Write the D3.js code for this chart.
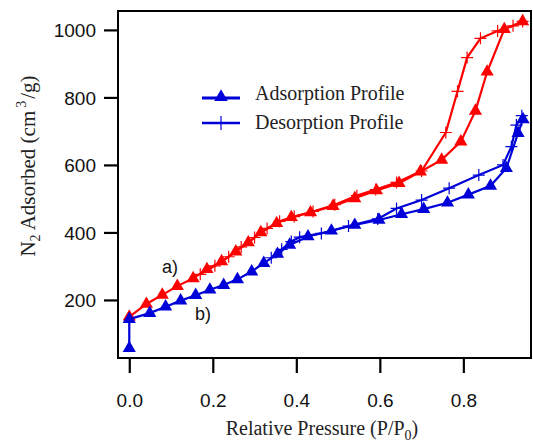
<!DOCTYPE html>
<html><head><meta charset="utf-8">
<script src="https://cdn.jsdelivr.net/npm/d3@7"></script>
<style>body{margin:0;background:#fff}svg{display:block}</style>
</head><body><svg id="c" width="533" height="442"></svg>
<script>
// ---- data ----
const xTicks = [0.0, 0.2, 0.4, 0.6, 0.8];
const yTicks = [200, 400, 600, 800, 1000];
// a) red sample
const redAdsP = [0.0,0.041,0.079,0.115,0.153,0.186,0.221,0.255,0.285,0.315,0.353,0.388,0.434,0.488,0.540,0.592,0.646,0.697,0.748,0.794,0.829,0.857,0.898,0.942];
const redAdsV = [150,188,215,241,264,291,314,343,370,400,427,445,459,478,501,524,546,580,615,669,760,876,1002,1025];
const redDesP = [0.942,0.919,0.882,0.841,0.809,0.786,0.758,0.700,0.640,0.590,0.545,0.492,0.440,0.395,0.360,0.330,0.300,0.268,0.238,0.205,0.170];
const redDesV = [1025,1012,997,975,918,818,696,582,548,527,509,482,462,447,433,412,385,357,328,301,276];
// b) blue sample
const blueAdsP = [0.0,0.0,0.049,0.087,0.123,0.159,0.193,0.226,0.259,0.293,0.322,0.355,0.384,0.428,0.484,0.540,0.598,0.652,0.705,0.762,0.812,0.865,0.903,0.931,0.943];
const blueAdsV = [57,143,161,180,198,214,230,244,261,284,309,336,363,388,405,422,437,454,469,488,512,538,590,694,735];
const blueDesP = [0.940,0.927,0.915,0.895,0.837,0.766,0.700,0.640,0.595,0.525,0.460,0.408,0.388,0.365,0.340];
const blueDesV = [746,718,654,600,570,531,496,471,440,419,397,386,373,350,325];
const legendLabels = ["Adsorption Profile", "Desorption Profile"];

const svg = d3.select("#c");
const L = 118, T = 11, R = 531, B = 358;
const x = d3.scaleLinear().domain([-0.027, 0.962]).range([L, R]);
const y = d3.scaleLinear().domain([28, 1056]).range([B, T]);

const RED = "#ff0000", BLUE = "#0000d8";

// frame
svg.append("rect").attr("x", L).attr("y", T).attr("width", R - L).attr("height", B - T)
  .attr("fill", "none").attr("stroke", "#000").attr("stroke-width", 2);

// axes
const xAxis = d3.axisBottom(x).tickValues(xTicks).tickSize(15).tickFormat(d3.format(".1f"));
const yAxis = d3.axisLeft(y).tickValues(yTicks).tickSize(14).tickFormat(d3.format("d"));
const gx = svg.append("g").attr("transform", `translate(0,${B})`).call(xAxis);
const gy = svg.append("g").attr("transform", `translate(${L},0)`).call(yAxis);
[gx, gy].forEach(g => {
  g.select(".domain").remove();
  g.selectAll(".tick line").attr("stroke", "#000").attr("stroke-width", 2.2);
  g.selectAll(".tick text").attr("fill", "#111").attr("font-family", "Liberation Sans, Arial, sans-serif").attr("font-size", 19);
});
gx.selectAll(".tick text").attr("y", 36).attr("dy", "0.71em");
gy.selectAll(".tick text").attr("x", -22).attr("dy", "0.35em");

// axis titles
svg.append("text").attr("x", 322).attr("y", 435).attr("text-anchor", "middle")
  .attr("font-family", "Liberation Serif, Times New Roman, serif").attr("font-size", 20).attr("fill", "#222")
  .call(t => { t.append("tspan").text("Relative Pressure (P/P");
               t.append("tspan").attr("font-size", 14).attr("dy", 5).text("0");
               t.append("tspan").attr("dy", -5).text(")"); });
svg.append("text").attr("transform", "translate(35,166) rotate(-90)").attr("text-anchor", "middle")
  .attr("font-family", "Liberation Serif, Times New Roman, serif").attr("font-size", 21).attr("fill", "#222")
  .call(t => { t.append("tspan").text("N");
               t.append("tspan").attr("font-size", 14).attr("dy", 5).text("2");
               t.append("tspan").attr("dy", -5).text(" Adsorbed (cm");
               t.append("tspan").attr("font-size", 14).attr("dy", -9).attr("dx", 3).text("3");
               t.append("tspan").attr("dy", 9).attr("dx", 2).text("/g)"); });

const line = d3.line().x(d => x(d[0])).y(d => y(d[1]));
const zip = (a, b) => a.map((v, i) => [v, b[i]]);
const tri = d3.symbol().type(d3.symbolTriangle).size(75);

function drawSeries(P, V, color, kind) {
  const pts = zip(P, V);
  svg.append("path").attr("d", line(pts)).attr("fill", "none").attr("stroke", color).attr("stroke-width", 2.2);
  const g = svg.append("g");
  if (kind === "tri") {
    g.selectAll("path").data(pts).join("path").attr("d", tri)
      .attr("transform", d => `translate(${x(d[0])},${y(d[1])})`).attr("fill", color);
  } else {
    g.selectAll("path").data(pts).join("path")
      .attr("d", "M-6,0H6M0,-6V6")
      .attr("transform", d => `translate(${x(d[0])},${y(d[1])})`).attr("stroke", color).attr("stroke-width", 1.2).attr("fill", "none");
  }
}
drawSeries(redDesP, redDesV, RED, "plus");
drawSeries(redAdsP, redAdsV, RED, "tri");
drawSeries(blueDesP, blueDesV, BLUE, "plus");
drawSeries(blueAdsP, blueAdsV, BLUE, "tri");

// sample labels
svg.append("text").attr("x", 162).attr("y", 273).attr("font-family", "Liberation Sans, Arial, sans-serif").attr("font-size", 18).attr("fill", "#111").text("a)");
svg.append("text").attr("x", 195).attr("y", 320).attr("font-family", "Liberation Sans, Arial, sans-serif").attr("font-size", 18).attr("fill", "#111").text("b)");

// legend
const lg = svg.append("g");
lg.append("line").attr("x1", 202).attr("x2", 240).attr("y1", 98).attr("y2", 98).attr("stroke", BLUE).attr("stroke-width", 3);
lg.append("path").attr("d", d3.symbol().type(d3.symbolTriangle).size(80)).attr("transform", "translate(221,97)").attr("fill", BLUE);
lg.append("line").attr("x1", 202).attr("x2", 240).attr("y1", 123).attr("y2", 123).attr("stroke", BLUE).attr("stroke-width", 2.5);
lg.append("path").attr("d", "M0,-7V7").attr("transform", "translate(221,123)").attr("stroke", BLUE).attr("stroke-width", 1.2);
lg.selectAll("text.lt").data(legendLabels).join("text").attr("class", "lt")
  .attr("x", 255).attr("y", (d, i) => 100 + i * 29)
  .attr("font-family", "Liberation Serif, Times New Roman, serif").attr("font-size", 20).attr("fill", "#222").text(d => d);
</script></body></html>
